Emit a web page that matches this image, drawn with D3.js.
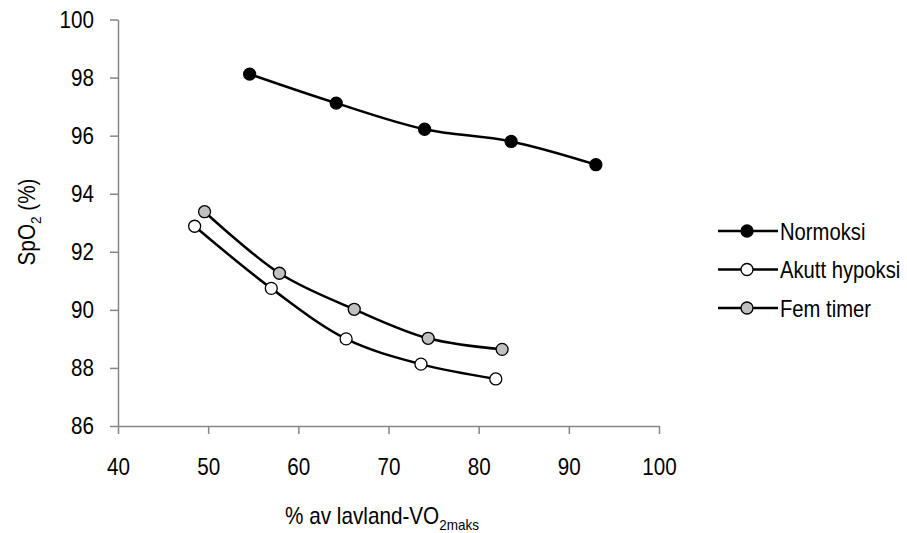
<!DOCTYPE html>
<html>
<head>
<meta charset="utf-8">
<script src="https://cdn.jsdelivr.net/npm/d3@7"></script>
<style>
  body { margin: 0; background: #fff; }
  text { font-family: "Liberation Sans", Arial, sans-serif; }
</style>
</head>
<body>
<svg id="svg" width="907" height="533"></svg>
<script>
// data
var normX = [54.6, 64.2, 74.0, 83.6, 93.0];
var normY = [98.12, 97.12, 96.22, 95.8, 95.0];
var akuttX = [48.5, 57.0, 65.3, 73.6, 81.9];
var akuttY = [92.88, 90.74, 89.0, 88.13, 87.62];
var femX = [49.6, 57.9, 66.2, 74.4, 82.6];
var femY = [93.38, 91.26, 90.02, 89.02, 88.64];
var xTicks = [40, 50, 60, 70, 80, 90, 100];
var yTicks = [86, 88, 90, 92, 94, 96, 98, 100];
var seriesNames = ["Normoksi", "Akutt hypoksi", "Fem timer"];
var seriesFill = ["#000000", "#ffffff", "#c0c0c0"];

var series = [
  { name: seriesNames[0], fill: seriesFill[0], pts: normX.map(function(x, i) { return [x, normY[i]]; }) },
  { name: seriesNames[1], fill: seriesFill[1], pts: akuttX.map(function(x, i) { return [x, akuttY[i]]; }) },
  { name: seriesNames[2], fill: seriesFill[2], pts: femX.map(function(x, i) { return [x, femY[i]]; }) }
];

// the original uses a narrow font, squeeze Liberation Sans horizontally
var narrow = 0.86;
var svg = d3.select("#svg");
var x = d3.scaleLinear().domain([40, 100]).range([118, 659]);
var y = d3.scaleLinear().domain([86, 100]).range([426, 19.5]);

// axes
var xAxis = svg.append("g").attr("transform", "translate(0,426)")
  .call(d3.axisBottom(x).tickValues(xTicks).tickSize(8).tickPadding(24).tickSizeOuter(0));
var yAxis = svg.append("g").attr("transform", "translate(118,0)")
  .call(d3.axisLeft(y).tickValues(yTicks).tickSize(8).tickPadding(16).tickSizeOuter(0));

[xAxis, yAxis].forEach(function(a) {
  a.attr("font-family", "'Liberation Sans', Arial, sans-serif").attr("font-size", 24);
  a.select(".domain").attr("stroke", "#868686").attr("stroke-width", 1.5);
  a.selectAll(".tick line").attr("stroke", "#868686").attr("stroke-width", 1.5);
  a.selectAll(".tick text").attr("fill", "#000");
});
xAxis.selectAll(".tick text").attr("transform", "scale(" + narrow + ",1)");
yAxis.selectAll(".tick text").attr("x", 0).attr("transform", "translate(-24,0) scale(" + narrow + ",1)");

// axis titles
var xt = svg.append("text").attr("transform", "translate(382,524) scale(0.9,1)")
  .attr("text-anchor", "middle").style("font-size", "23px");
xt.append("tspan").text("% av lavland-VO");
xt.append("tspan").attr("dy", 6).style("font-size", "15px").text("2maks");

var yt = svg.append("text").attr("transform", "translate(35,222) rotate(-90) scale(0.9,1)")
  .attr("text-anchor", "middle").style("font-size", "23px");
yt.append("tspan").text("SpO");
yt.append("tspan").attr("dy", 6).style("font-size", "15px").text("2");
yt.append("tspan").attr("dy", -6).text(" (%)");

// lines
var line = d3.line()
  .x(function(d) { return x(d[0]); })
  .y(function(d) { return y(d[1]); })
  .curve(d3.curveCatmullRom.alpha(0.5));

series.forEach(function(s) {
  svg.append("path").datum(s.pts)
    .attr("d", line)
    .attr("fill", "none")
    .attr("stroke", "#000")
    .attr("stroke-width", 2.5);
  svg.selectAll(null).data(s.pts).enter().append("circle")
    .attr("cx", function(d) { return x(d[0]); })
    .attr("cy", function(d) { return y(d[1]); })
    .attr("r", 6)
    .attr("fill", s.fill)
    .attr("stroke", "#000")
    .attr("stroke-width", 1.3);
});

// legend
var legend = svg.append("g");
series.forEach(function(s, i) {
  var ly = 231 + i * 38.5;
  legend.append("line").attr("x1", 718).attr("x2", 778).attr("y1", ly).attr("y2", ly)
    .attr("stroke", "#000").attr("stroke-width", 2.5);
  legend.append("circle").attr("cx", 747).attr("cy", ly).attr("r", 6)
    .attr("fill", s.fill).attr("stroke", "#000").attr("stroke-width", 1.3);
  legend.append("text").attr("transform", "translate(780," + (ly + 8.5) + ") scale(0.88,1)")
    .style("font-size", "23px").text(s.name);
});
</script>
</body>
</html>
